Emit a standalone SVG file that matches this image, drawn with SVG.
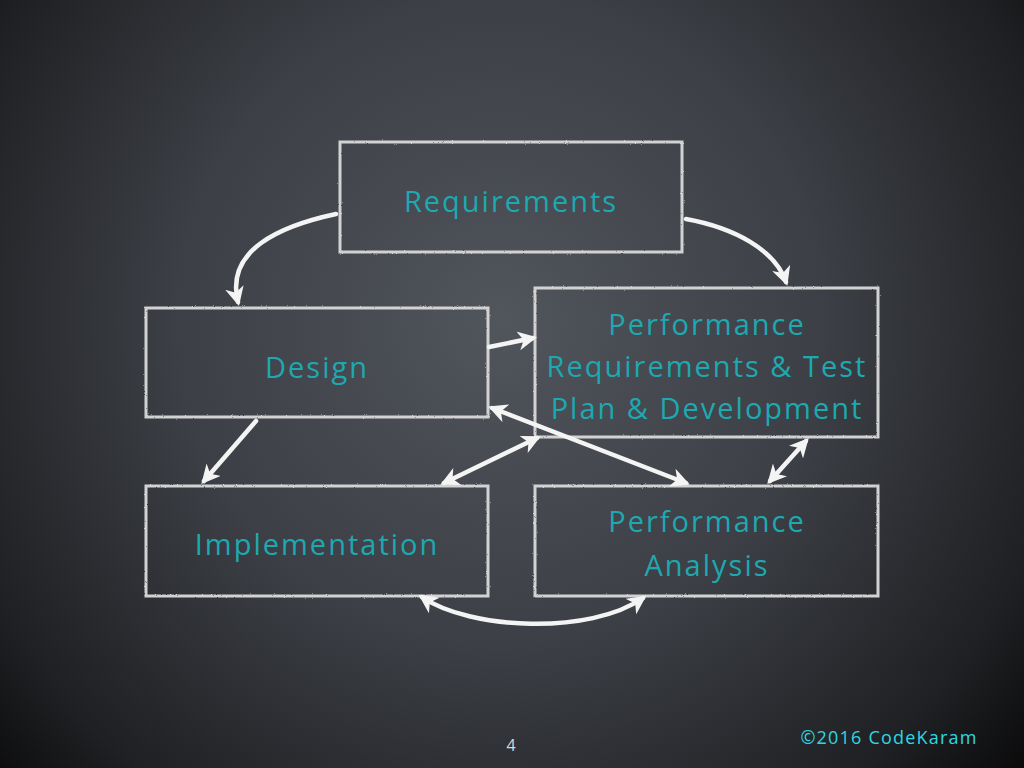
<svg xmlns="http://www.w3.org/2000/svg" width="1024" height="768" viewBox="0 0 1024 768">
  <defs>
    <radialGradient id="bg" cx="500" cy="320" r="720" gradientUnits="userSpaceOnUse">
      <stop offset="0" stop-color="#51555c"/>
      <stop offset="0.45" stop-color="#3c3f45"/>
      <stop offset="0.8" stop-color="#1f2023"/>
      <stop offset="1" stop-color="#050505"/>
    </radialGradient>
    <filter id="chalk" x="-5%" y="-5%" width="110%" height="110%">
      <feTurbulence type="fractalNoise" baseFrequency="0.9" numOctaves="2" seed="3" result="n"/>
      <feDisplacementMap in="SourceGraphic" in2="n" scale="2"/>
    </filter>
    <marker id="ah" viewBox="0 0 14 14" refX="11" refY="7" markerWidth="19" markerHeight="19" markerUnits="userSpaceOnUse" orient="auto-start-reverse">
      <path d="M0,0 L14,7 L0,14 L4,7 z" fill="#f4f4f4"/>
    </marker>
    <style>
      .box { fill: none; stroke: #d2d2d2; stroke-width: 3; }
      .lbl { font-family: "Open Sans", "Liberation Sans", sans-serif; font-size: 29px; fill: #1ea8b0; text-anchor: middle; letter-spacing: 2px; }
      .conn { fill: none; stroke: #f4f4f4; stroke-width: 4.5; stroke-linecap: round; }
    </style>
  </defs>

  <rect x="0" y="0" width="1024" height="768" fill="url(#bg)"/>

  <g id="requirements">
    <rect class="box" x="340" y="142" width="342" height="110" filter="url(#chalk)"/>
    <text class="lbl" x="511" y="212">Requirements</text>
  </g>

  <g id="design">
    <rect class="box" x="146" y="308" width="342" height="109" filter="url(#chalk)"/>
    <text class="lbl" x="317" y="378">Design</text>
  </g>

  <g id="perf-req">
    <rect class="box" x="535" y="288" width="343" height="149" filter="url(#chalk)"/>
    <text class="lbl" x="707" y="335">Performance</text>
    <text class="lbl" x="707" y="377" letter-spacing="1.6">Requirements &amp; Test</text>
    <text class="lbl" x="707" y="419" letter-spacing="1.6">Plan &amp; Development</text>
  </g>

  <g id="implementation">
    <rect class="box" x="146" y="486" width="342" height="110" filter="url(#chalk)"/>
    <text class="lbl" x="317" y="555">Implementation</text>
  </g>

  <g id="perf-analysis">
    <rect class="box" x="535" y="486" width="343" height="110" filter="url(#chalk)"/>
    <text class="lbl" x="707" y="532">Performance</text>
    <text class="lbl" x="707" y="576">Analysis</text>
  </g>

  <g id="connectors">
    <path class="conn" d="M336,214 C280,226 225,250 238,302" marker-end="url(#ah)"/>
    <path class="conn" d="M686,219 C735,228 775,250 786,282" marker-end="url(#ah)"/>
    <path class="conn" d="M489,347 L533,338" marker-end="url(#ah)"/>
    <path class="conn" d="M256,421 L204,481" marker-end="url(#ah)"/>
    <path class="conn" d="M492,408 L686,483" marker-start="url(#ah)" marker-end="url(#ah)"/>
    <path class="conn" d="M444,483 L537,438" marker-start="url(#ah)" marker-end="url(#ah)"/>
    <path class="conn" d="M770,481 L806,441" marker-start="url(#ah)" marker-end="url(#ah)"/>
    <path class="conn" d="M422,597 C470,630 590,635 643,598" marker-start="url(#ah)" marker-end="url(#ah)"/>
  </g>

  <text x="511" y="751" font-family="Open Sans, Liberation Sans, sans-serif" font-size="16" fill="#d8d8d8" text-anchor="middle">4</text>
  <text x="889" y="744" font-family="Open Sans, Liberation Sans, sans-serif" font-size="18" fill="#2fd6e2" text-anchor="middle" letter-spacing="1.2">©2016 CodeKaram</text>
</svg>
